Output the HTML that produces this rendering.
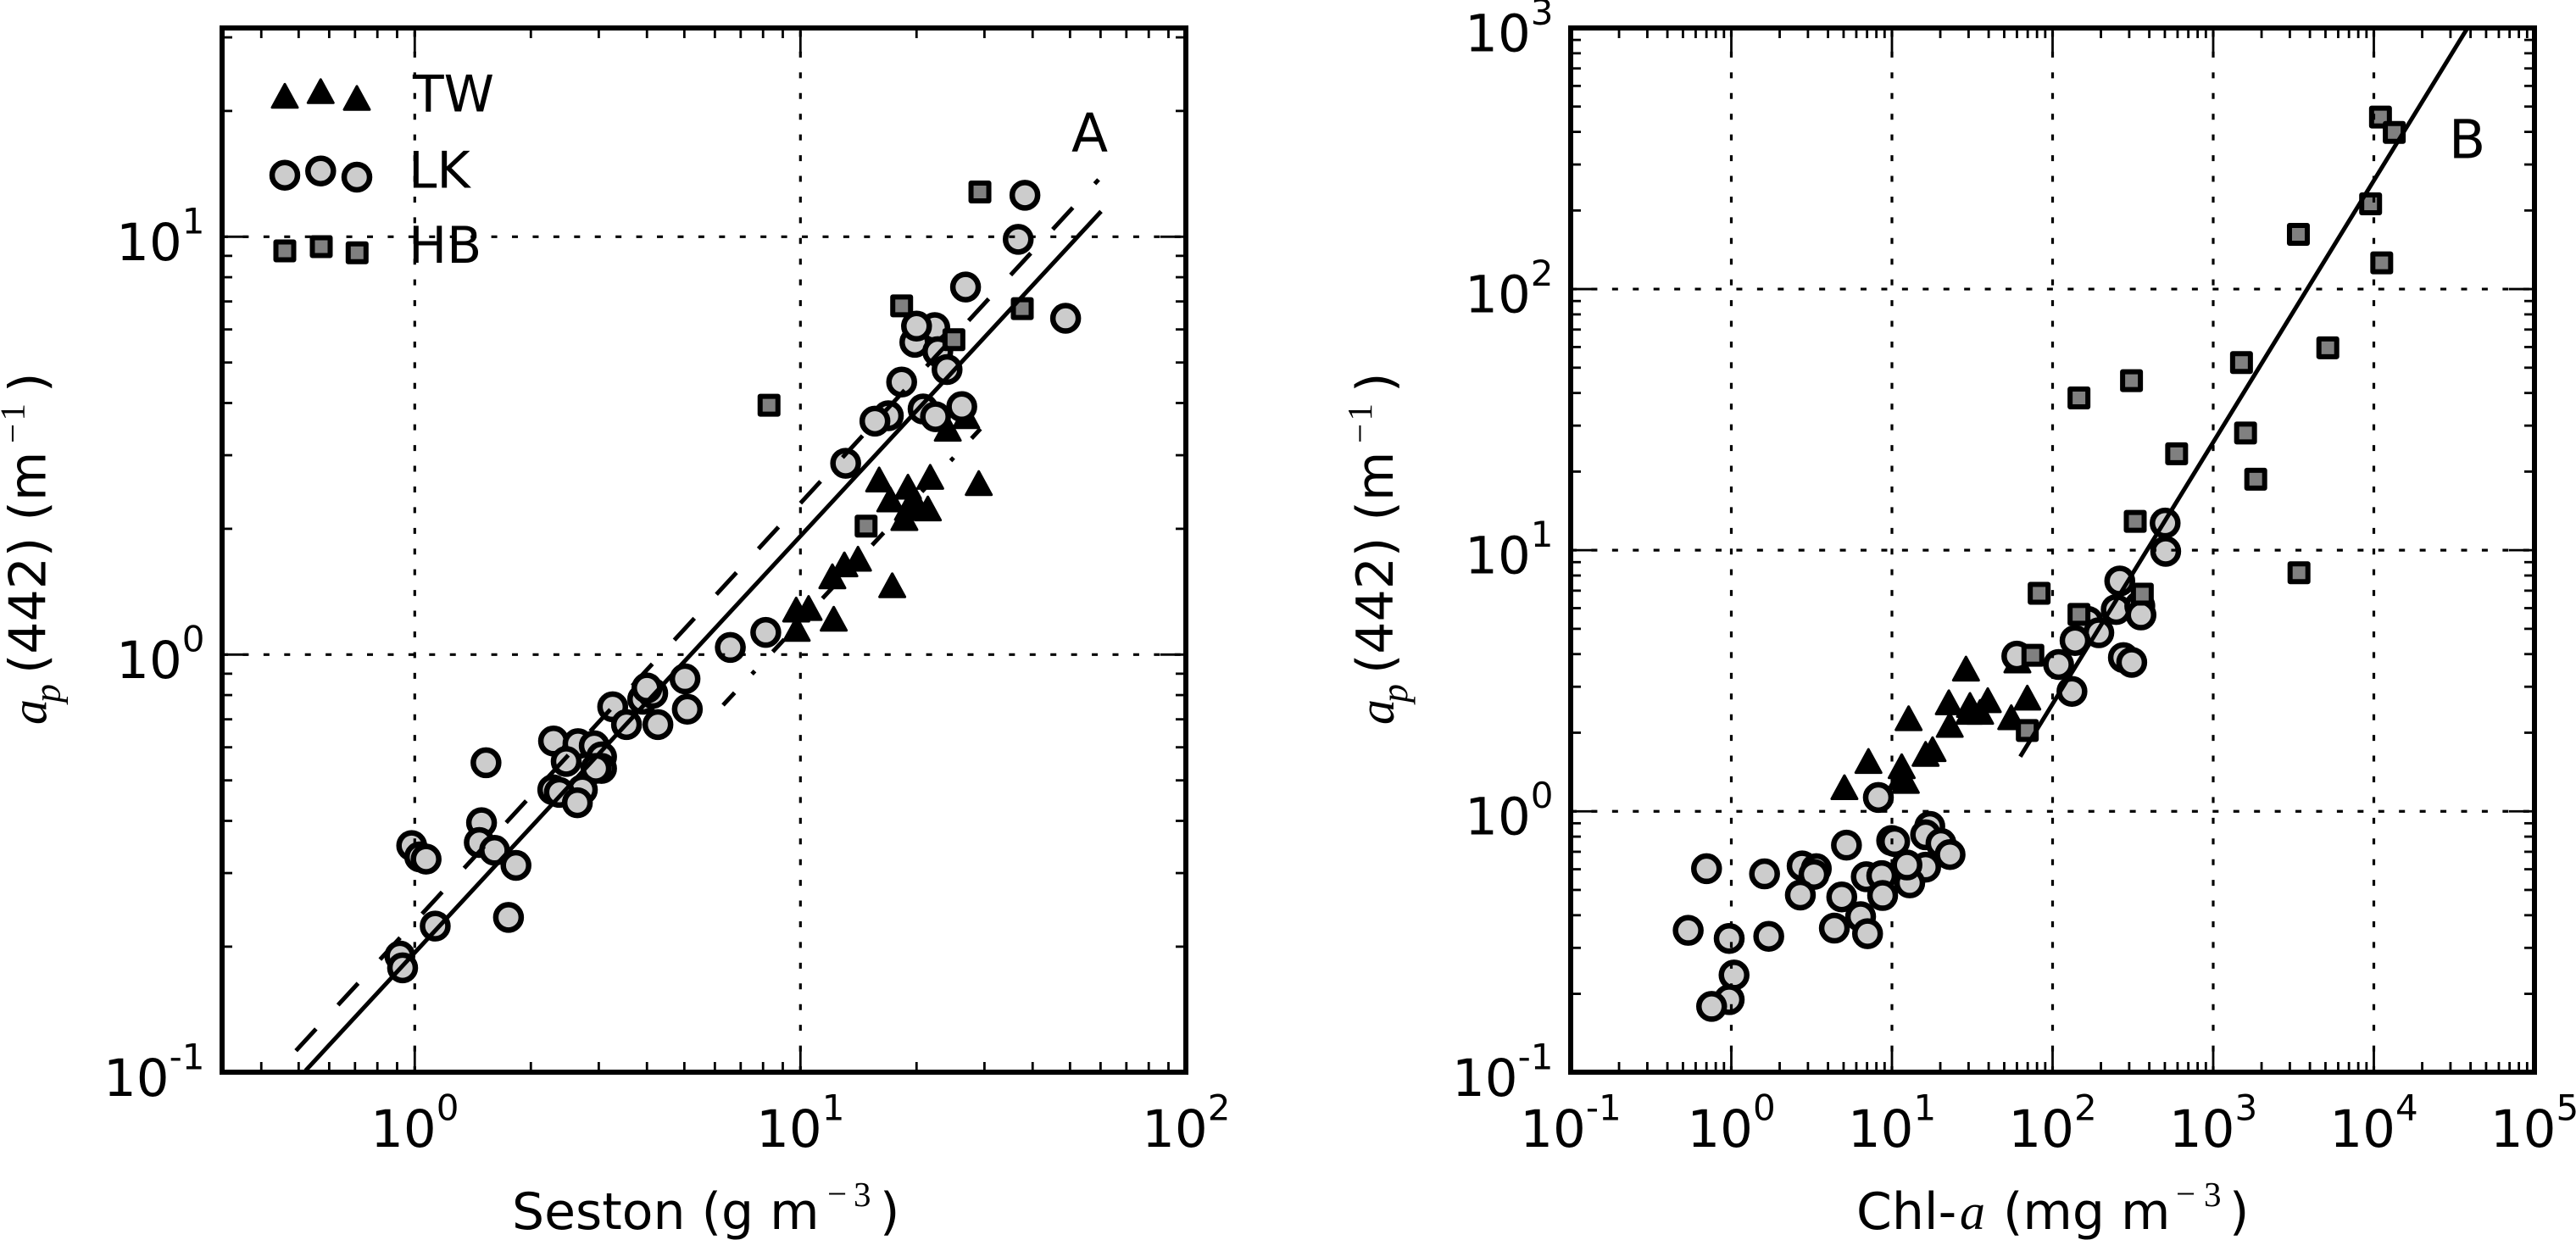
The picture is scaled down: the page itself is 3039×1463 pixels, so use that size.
<!DOCTYPE html>
<html lang="en">
<head>
<meta charset="utf-8">
<title>Particulate absorption vs seston and chlorophyll</title>
<style>
html,body{margin:0;padding:0;background:#fff;}
svg{position:absolute;left:0;top:0;display:block;}
text{font-family:"DejaVu Sans","Liberation Sans",sans-serif;fill:#000;font-size:60px;}
.cm{font-family:"Liberation Serif",serif;font-size:41px;}
.it{font-family:"Liberation Serif",serif;font-style:italic;font-size:60px;}
.sub{font-family:"Liberation Serif",serif;font-style:italic;font-size:44px;}
.letter{font-size:63px;}
</style>
</head>
<body>
<svg xmlns="http://www.w3.org/2000/svg" width="3039" height="1463" viewBox="0 0 3039 1463">
  <defs>
    <clipPath id="clip-b"><rect x="1853" y="33" width="1137" height="1232"/></clipPath>
  </defs>
  <rect x="0" y="0" width="3039" height="1463" fill="#fff"/>

  <g id="panel-a">
    <g id="a-marks"></g>
    <g id="a-grid"></g>
    <g>
      <g fill="#000" stroke="#000" stroke-width="3" stroke-linejoin="round">
        <polygon points="0,-14.5 -15,13 15,13" transform="translate(336,113.8)"/>
        <polygon points="0,-14.5 -15,13 15,13" transform="translate(378.3,108.3)"/>
        <polygon points="0,-14.5 -15,13 15,13" transform="translate(421,116.3)"/>
      </g>
      <text x="487" y="131.7">TW</text>
      <g fill="#ccc" stroke="#000" stroke-width="6.5">
        <circle cx="336" cy="206.7" r="15"/>
        <circle cx="378.3" cy="201.7" r="15"/>
        <circle cx="421" cy="209" r="15"/>
      </g>
      <text x="482" y="221.7">LK</text>
      <g fill="#808080" stroke="#000" stroke-width="6" stroke-linejoin="round">
        <rect x="325.5" y="285.5" width="21" height="21"/>
        <rect x="368.5" y="280.5" width="21" height="21"/>
        <rect x="410.8" y="287.8" width="21" height="21"/>
      </g>
      <text x="482" y="310">HB</text>
    </g>
    <g id="a-lines"></g>
    <g id="a-ticks"></g>
    <rect x="262" y="33" width="1137" height="1232" fill="none" stroke="#000" stroke-width="6"/>
    <g id="a-ticklabels"></g>
    <text class="letter" x="1264" y="179">A</text>
    <g>
      <text x="604" y="1450">Seston (g m</text>
      <text class="cm" x="976" y="1422">−</text>
      <text class="cm" x="1007" y="1423">3</text>
      <text x="1038" y="1450">)</text>
    </g>
    <g transform="translate(53.3,0) rotate(-90)">
      <text class="it" x="-855" y="1">a</text>
      <text class="sub" x="-829" y="17">p</text>
      <text x="-795" y="0">(442) (m</text>
      <text class="cm" x="-523" y="-25">−</text>
      <text class="cm" x="-496.5" y="-25">1</text>
      <text x="-463" y="0">)</text>
    </g>
  </g>

  <g id="panel-b">
    <g id="b-marks"></g>
    <g id="b-grid"></g>
    <g id="b-lines" clip-path="url(#clip-b)"></g>
    <g id="b-ticks"></g>
    <rect x="1853" y="33" width="1137" height="1232" fill="none" stroke="#000" stroke-width="6"/>
    <g id="b-ticklabels"></g>
    <text class="letter" x="2889" y="186.4">B</text>
    <g>
      <text x="2190" y="1450">Chl-</text>
      <text class="it" x="2312" y="1450">a</text>
      <text x="2363" y="1450">(mg m</text>
      <text class="cm" x="2567" y="1422">−</text>
      <text class="cm" x="2600" y="1423">3</text>
      <text x="2630" y="1450">)</text>
    </g>
    <g transform="translate(1642.8,0) rotate(-90)">
      <text class="it" x="-855" y="1">a</text>
      <text class="sub" x="-829" y="17">p</text>
      <text x="-795" y="0">(442) (m</text>
      <text class="cm" x="-523" y="-25">−</text>
      <text class="cm" x="-496.5" y="-25">1</text>
      <text x="-463" y="0">)</text>
    </g>
  </g>
</svg>
<script>
// Panel A data: seston (g m-3) vs ap(442) (m-1)
const sestonLkX = [38.2,36.7,26.8,48.7,22.3,19.8,20.0,22.7,24.0,18.3,26.2,20.8,22.4,16.9,15.6,13.1,8.13,6.58,5.02,5.09,3.90,4.14,4.00,3.26,3.54,4.27,2.29,2.65,2.92,2.47,3.05,3.05,2.95,2.72,2.28,2.37,2.64,1.53,1.49,1.47,1.61,1.83,0.982,1.03,1.07,1.75,1.13,0.915,0.930];
const sestonLkY = [12.57,9.86,7.58,6.38,6.06,5.59,6.11,5.31,4.81,4.49,3.92,3.87,3.71,3.73,3.62,2.87,1.13,1.04,0.875,0.740,0.782,0.808,0.832,0.750,0.680,0.680,0.621,0.612,0.605,0.555,0.569,0.534,0.534,0.475,0.475,0.468,0.442,0.551,0.396,0.355,0.340,0.313,0.349,0.328,0.324,0.235,0.224,0.190,0.178];
const sestonTwX = [9.78,9.75,10.5,12.2,12.1,13.0,14.1,17.3,16.0,17.1,19.0,18.6,21.4,21.7,29.0,24.1,26.9,19.7,19.0];
const sestonTwY = [1.148,1.277,1.288,1.214,1.534,1.638,1.690,1.460,2.615,2.343,2.513,2.114,2.229,2.654,2.564,3.458,3.708,2.343,2.236];
const sestonHbX = [29.2,18.3,37.6,25.0,8.29,14.8];
const sestonHbY = [12.8,6.83,6.73,5.67,3.95,2.03];
const sestonSolidFitX = [0.521,60.2];
const sestonSolidFitY = [0.101,11.5];
const sestonDashedFitX = [0.492,59.3];
const sestonDashedFitY = [0.1127,13.7];
const sestonDashDotFitX = [6.30,29.3];
const sestonDashDotFitY = [0.757,3.47];
const sestonXTickExponents = [0,1,2];
const sestonYTickExponents = [-1,0,1];
const sestonXGridExponents = [0,1];
const sestonYGridExponents = [0,1];

// Panel B data: Chl-a (mg m-3) vs ap(442) (m-1)
const chlHbX = [11000,13400,9550,3390,11200,5170,1500,310,146,1590,592,1840,327,3420,82.5,362,146,75.4,69.6];
const chlHbY = [456,398,212,162,126,59.6,52.3,44.6,38.3,28.1,23.4,18.7,12.9,8.2,6.84,6.79,5.68,3.96,2.04];
const chlLkX = [502,506,262,249,349,355,166,194,138,59.9,109,276,311,132,8.23,17.2,16.2,9.96,10.4,20.2,23.0,5.21,0.701,1.61,2.76,3.38,3.27,2.69,6.92,8.64,16.2,12.9,12.4,8.75,4.87,6.38,4.38,7.05,0.539,0.970,1.71,1.04,0.970,0.754];
const chlLkY = [12.7,9.9,7.62,5.93,6.12,5.65,5.34,4.83,4.51,3.93,3.65,3.88,3.72,2.88,1.13,0.876,0.813,0.773,0.766,0.754,0.683,0.742,0.603,0.576,0.618,0.603,0.573,0.478,0.562,0.567,0.611,0.532,0.623,0.476,0.470,0.395,0.357,0.340,0.350,0.326,0.332,0.236,0.190,0.179];
const chlTwX = [28.9,60.4,69.6,22.6,30.6,39.5,35.4,30.3,55.3,12.7,22.9,17.9,16.2,7.14,11.5,11.4,12.2,5.06];
const chlTwY = [3.50,3.76,2.71,2.60,2.54,2.65,2.39,2.39,2.28,2.26,2.13,1.72,1.65,1.55,1.48,1.34,1.30,1.23];
const chlFitX = [62.9,38300];
const chlFitY = [1.62,1000];
const chlXTickExponents = [-1,0,1,2,3,4,5];
const chlYTickExponents = [-1,0,1,2,3];
const chlXGridExponents = [0,1,2,3,4];
const chlYGridExponents = [0,1,2];

const NS = 'http://www.w3.org/2000/svg';
function svgEl(tag, parent) {
  const el = document.createElementNS(NS, tag);
  parent.appendChild(el);
  return el;
}
function logScale(dMin, dMax, pMin, pMax) {
  const a = Math.log10(dMin), b = Math.log10(dMax);
  return function (v) { return pMin + (Math.log10(v) - a) / (b - a) * (pMax - pMin); };
}
function drawTriangles(g, xs, ys, sx, sy) {
  xs.forEach(function (v, i) {
    const cx = sx(v), cy = sy(ys[i]);
    const el = svgEl('polygon', g);
    el.setAttribute('points', cx + ',' + (cy - 14.5) + ' ' + (cx - 15) + ',' + (cy + 13) + ' ' + (cx + 15) + ',' + (cy + 13));
    el.setAttribute('fill', '#000');
    el.setAttribute('stroke', '#000');
    el.setAttribute('stroke-width', '3');
    el.setAttribute('stroke-linejoin', 'round');
    
    
  });
}
function drawCircles(g, xs, ys, sx, sy) {
  xs.forEach(function (v, i) {
    const el = svgEl('circle', g);
    el.setAttribute('cx', sx(v));
    el.setAttribute('cy', sy(ys[i]));
    el.setAttribute('r', '15');
    el.setAttribute('fill', '#ccc');
    el.setAttribute('stroke', '#000');
    el.setAttribute('stroke-width', '6.5');
    
    
  });
}
function drawSquares(g, xs, ys, sx, sy) {
  xs.forEach(function (v, i) {
    const el = svgEl('rect', g);
    el.setAttribute('x', sx(v) - 10.5);
    el.setAttribute('y', sy(ys[i]) - 10.5);
    el.setAttribute('width', '21');
    el.setAttribute('height', '21');
    el.setAttribute('fill', '#808080');
    el.setAttribute('stroke', '#000');
    el.setAttribute('stroke-width', '6');
    el.setAttribute('stroke-linejoin', 'round');
    
    
  });
}
function drawFit(g, xs, ys, sx, sy, dash, name) {
  const el = svgEl('line', g);
  el.setAttribute('x1', sx(xs[0]));
  el.setAttribute('y1', sy(ys[0]));
  el.setAttribute('x2', sx(xs[1]));
  el.setAttribute('y2', sy(ys[1]));
  el.setAttribute('stroke', '#000');
  el.setAttribute('stroke-width', '5');
  if (dash) el.setAttribute('stroke-dasharray', dash);
  
  
}
function drawGrid(g, xExp, yExp, sx, sy, box) {
  xExp.forEach(function (e) {
    const el = svgEl('line', g);
    const x = sx(Math.pow(10, e));
    el.setAttribute('x1', x);
    el.setAttribute('x2', x);
    el.setAttribute('y1', box.bottom);
    el.setAttribute('y2', box.top);
    el.setAttribute('stroke', '#000');
    el.setAttribute('stroke-width', '3.2');
    el.setAttribute('stroke-dasharray', '7 17.43');
    
    
  });
  yExp.forEach(function (e) {
    const el = svgEl('line', g);
    const y = sy(Math.pow(10, e));
    el.setAttribute('x1', box.left);
    el.setAttribute('x2', box.right);
    el.setAttribute('y1', y);
    el.setAttribute('y2', y);
    el.setAttribute('stroke', '#000');
    el.setAttribute('stroke-width', '3.2');
    el.setAttribute('stroke-dasharray', '7 17.43');
    
    
  });
}
function tickValues(d0, d1) {
  const out = [];
  const lo = Math.floor(Math.log10(d0) + 1e-9), hi = Math.ceil(Math.log10(d1) - 1e-9);
  for (let e = lo; e <= hi; e++) {
    for (let m = 1; m <= 9; m++) {
      const v = m * Math.pow(10, e);
      if (v >= d0 * 0.999 && v <= d1 * 1.001) out.push({ v: v, major: m === 1 });
    }
  }
  return out;
}
function drawTicks(g, xDom, yDom, sx, sy, box) {
  tickValues(xDom[0], xDom[1]).forEach(function (t) {
    const len = t.major ? 30 : 12;
    const x = sx(t.v);
    [[box.bottom, box.bottom - len], [box.top, box.top + len]].forEach(function (p) {
      const el = svgEl('line', g);
      el.setAttribute('x1', x);
      el.setAttribute('x2', x);
      el.setAttribute('y1', p[0]);
      el.setAttribute('y2', p[1]);
      el.setAttribute('stroke', '#000');
      el.setAttribute('stroke-width', '2.8');
      
      
    });
  });
  tickValues(yDom[0], yDom[1]).forEach(function (t) {
    const len = t.major ? 30 : 12;
    const y = sy(t.v);
    [[box.left, box.left + len], [box.right, box.right - len]].forEach(function (p) {
      const el = svgEl('line', g);
      el.setAttribute('x1', p[0]);
      el.setAttribute('x2', p[1]);
      el.setAttribute('y1', y);
      el.setAttribute('y2', y);
      el.setAttribute('stroke', '#000');
      el.setAttribute('stroke-width', '2.8');
      
      
    });
  });
}
function powerLabel(g, x, y, exp, anchor, name) {
  const el = svgEl('text', g);
  el.setAttribute('x', x);
  el.setAttribute('y', y);
  el.setAttribute('text-anchor', anchor);
  
  
  const base = svgEl('tspan', el);
  base.setAttribute('font-size', '61');
  base.textContent = '10';
  const sup = svgEl('tspan', el);
  sup.setAttribute('font-size', '42');
  sup.setAttribute('dy', '-31.5');
  sup.textContent = String(exp);
}
function drawTickLabels(g, xExp, yExp, sx, sy, box) {
  xExp.forEach(function (e) {
    powerLabel(g, sx(Math.pow(10, e)), 1353, e, 'middle', 'x-tick-label');
  });
  yExp.forEach(function (e) {
    powerLabel(g, box.left - 20.5, sy(Math.pow(10, e)) + 27.5, e, 'end', 'y-tick-label');
  });
}

// Panel A
const aBox = { left: 262, right: 1399, top: 33, bottom: 1265 };
const aXDom = [Math.pow(10, -0.5), 100];
const aYDom = [0.1, Math.pow(10, 1.5)];
const ax = logScale(aXDom[0], aXDom[1], 261.8, 1399.3);
const ay = logScale(aYDom[0], aYDom[1], 1265.3, 32.8);
const aMarks = document.getElementById('a-marks');
drawTriangles(aMarks, sestonTwX, sestonTwY, ax, ay);
drawCircles(aMarks, sestonLkX, sestonLkY, ax, ay);
drawSquares(aMarks, sestonHbX, sestonHbY, ax, ay);
drawGrid(document.getElementById('a-grid'), sestonXGridExponents, sestonYGridExponents, ax, ay, aBox);
const aLines = document.getElementById('a-lines');
drawFit(aLines, sestonSolidFitX, sestonSolidFitY, ax, ay, null, 'fit-line-solid');
drawFit(aLines, sestonDashedFitX, sestonDashedFitY, ax, ay, '35 38.2', 'fit-line-dashed');
drawFit(aLines, sestonDashDotFitX, sestonDashDotFitY, ax, ay, '20 30 5 31', 'fit-line-dashdot');
drawTicks(document.getElementById('a-ticks'), aXDom, aYDom, ax, ay, aBox);
drawTickLabels(document.getElementById('a-ticklabels'), sestonXTickExponents, sestonYTickExponents, ax, ay, aBox);

// Panel B
const bBox = { left: 1853, right: 2990, top: 33, bottom: 1265 };
const bXDom = [0.1, 100000];
const bYDom = [0.1, 1000];
const bx = logScale(bXDom[0], bXDom[1], 1853, 2990);
const by = logScale(bYDom[0], bYDom[1], 1265.3, 33);
const bMarks = document.getElementById('b-marks');
drawTriangles(bMarks, chlTwX, chlTwY, bx, by);
drawCircles(bMarks, chlLkX, chlLkY, bx, by);
drawSquares(bMarks, chlHbX, chlHbY, bx, by);
drawGrid(document.getElementById('b-grid'), chlXGridExponents, chlYGridExponents, bx, by, bBox);
drawFit(document.getElementById('b-lines'), chlFitX, chlFitY, bx, by, null, 'fit-line-solid');
drawTicks(document.getElementById('b-ticks'), bXDom, bYDom, bx, by, bBox);
drawTickLabels(document.getElementById('b-ticklabels'), chlXTickExponents, chlYTickExponents, bx, by, bBox);
</script>
</body>
</html>
